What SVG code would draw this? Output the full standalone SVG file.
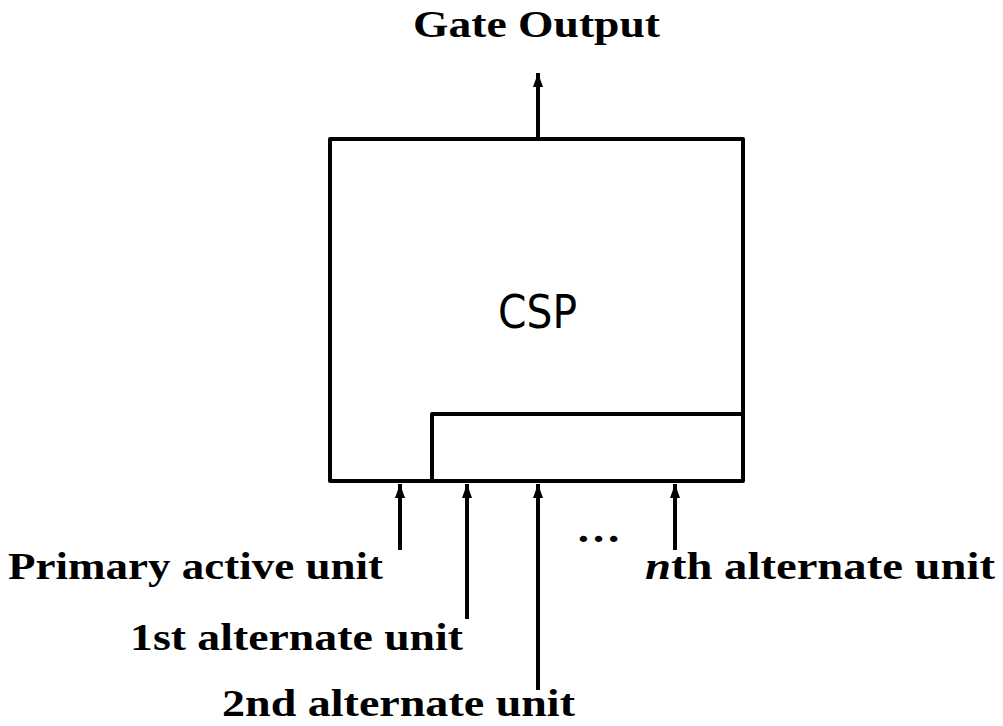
<svg xmlns="http://www.w3.org/2000/svg" width="1003" height="726" viewBox="0 0 1003 726">
<style>
.box{fill:none;stroke:#000;stroke-width:4;stroke-linejoin:round}
.ln{stroke:#000;stroke-width:4;fill:none}
.lbl{font-family:"Liberation Serif",serif;font-size:37px;fill:#000;font-weight:bold}
.csp{font-family:"DejaVu Sans","Liberation Sans",sans-serif;font-size:47px;fill:#000}
</style>
<defs>
<marker id="ah" viewBox="0 0 14 12" refX="14" refY="6" markerWidth="14" markerHeight="12" markerUnits="userSpaceOnUse" orient="auto">
<path d="M0,1 L14,6 L0,11 Z" fill="#000"/>
</marker>
</defs>
<g id="csp">
<rect class="box" x="330" y="139" width="413" height="342"/>
<text class="csp" x="498" y="328" textLength="79" lengthAdjust="spacingAndGlyphs">CSP</text>
</g>
<g id="alt-box">
<path class="box" d="M432,481 L432,414 L743,414"/>
</g>
<g id="connectors">
<line class="ln" x1="538" y1="139" x2="538" y2="73" marker-end="url(#ah)"/>
<line class="ln" x1="400" y1="550" x2="400" y2="484" marker-end="url(#ah)"/>
<line class="ln" x1="467" y1="619" x2="467" y2="484" marker-end="url(#ah)"/>
<line class="ln" x1="538" y1="690" x2="538" y2="484" marker-end="url(#ah)"/>
<line class="ln" x1="675" y1="550" x2="675" y2="484" marker-end="url(#ah)"/>
</g>
<g id="labels">
<text class="lbl" x="413" y="37" textLength="247" lengthAdjust="spacingAndGlyphs">Gate Output</text>
<text class="lbl" x="8" y="579" textLength="375" lengthAdjust="spacingAndGlyphs">Primary active unit</text>
<text class="lbl" x="130" y="650" textLength="333" lengthAdjust="spacingAndGlyphs">1st alternate unit</text>
<text class="lbl" x="222" y="716" textLength="353" lengthAdjust="spacingAndGlyphs">2nd alternate unit</text>
<text class="lbl" x="645" y="579" textLength="350" lengthAdjust="spacingAndGlyphs"><tspan font-style="italic">n</tspan>th alternate unit</text>
<text class="lbl" x="576" y="542" textLength="45" lengthAdjust="spacingAndGlyphs">…</text>
</g>
</svg>
